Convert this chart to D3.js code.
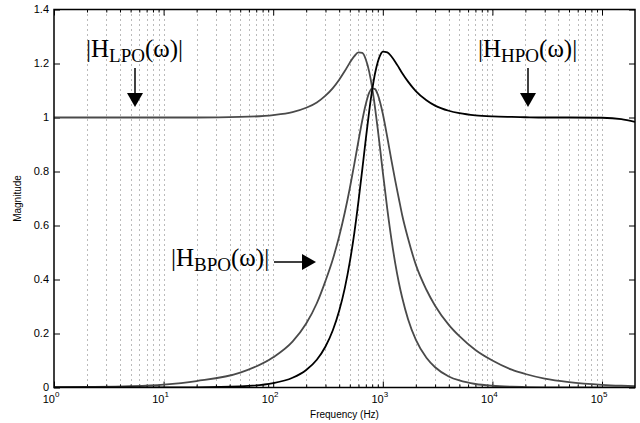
<!DOCTYPE html>
<html>
<head>
<meta charset="utf-8">
<script src="https://cdn.jsdelivr.net/npm/d3@7/dist/d3.min.js"></script>
<style>
  html, body { margin: 0; padding: 0; background: #fff; }
  svg { display: block; }
</style>
</head>
<body>
<svg id="chart" width="640" height="423"></svg>
<script>
// ---- data ----
const freqHz = [1, 2, 5, 10, 20, 50, 100, 150, 200, 250, 300, 350, 400, 450, 500, 550, 600, 650, 700, 750, 800, 850, 900, 950, 1000, 1100, 1200, 1300, 1400, 1500, 1700, 2000, 2500, 3000, 4000, 5000, 7000, 10000, 15000, 20000, 30000, 50000, 100000, 150000, 200000];
const lpoMag = [1.000, 1.000, 1.000, 1.000, 1.000, 1.002, 1.009, 1.020, 1.036, 1.056, 1.081, 1.109, 1.140, 1.172, 1.203, 1.227, 1.241, 1.239, 1.215, 1.171, 1.110, 1.036, 0.956, 0.876, 0.798, 0.660, 0.548, 0.459, 0.389, 0.334, 0.253, 0.177, 0.110, 0.075, 0.041, 0.026, 0.013, 0.0065, 0.003, 0.0016, 0.0007, 0.0003, 0.0001, 0, 0];
const hpoMag = [0, 0, 0, 0.0002, 0.0006, 0.004, 0.016, 0.036, 0.065, 0.103, 0.152, 0.212, 0.284, 0.368, 0.465, 0.573, 0.690, 0.808, 0.921, 1.021, 1.102, 1.164, 1.206, 1.232, 1.244, 1.241, 1.226, 1.206, 1.185, 1.165, 1.133, 1.098, 1.064, 1.044, 1.025, 1.016, 1.008, 1.004, 1.002, 1.001, 1.000, 1.000, 0.999, 0.994, 0.984];
const bpoMag = [0.001, 0.002, 0.005, 0.011, 0.024, 0.055, 0.112, 0.170, 0.237, 0.312, 0.395, 0.475, 0.560, 0.648, 0.738, 0.828, 0.914, 0.990, 1.050, 1.091, 1.108, 1.105, 1.085, 1.053, 1.014, 0.926, 0.840, 0.765, 0.700, 0.640, 0.552, 0.455, 0.362, 0.303, 0.232, 0.190, 0.139, 0.100, 0.066, 0.050, 0.033, 0.020, 0.010, 0.0067, 0.005];

const yTicks = [0, 0.2, 0.4, 0.6, 0.8, 1, 1.2, 1.4];
const yTickLabels = ["0", "0.2", "0.4", "0.6", "0.8", "1", "1.2", "1.4"];
const xMajorTicks = [1, 10, 100, 1000, 10000, 100000];
const xTickExponents = ["0", "1", "2", "3", "4", "5"];
const xLabel = "Frequency (Hz)";
const yLabel = "Magnitude";

// ---- layout ----
const L = 54, R = 635, T = 9.5, B = 387.5;
const svg = d3.select("#chart");
const x = d3.scaleLog().domain([1, 2e5]).range([L, R]);
const y = d3.scaleLinear().domain([0, 1.4]).range([B, T]);

// minor tick positions
const xMinorTicks = [];
for (let e = 0; e <= 5; e++) {
  for (let m = 2; m <= 9; m++) {
    const v = m * Math.pow(10, e);
    if (v < 2e5) xMinorTicks.push(v);
  }
}
const gridTicks = xMajorTicks.slice(1).concat(xMinorTicks);

// dotted vertical grid
svg.append("g").selectAll("line").data(gridTicks).join("line")
  .attr("x1", d => Math.round(x(d)) + 0.5).attr("x2", d => Math.round(x(d)) + 0.5)
  .attr("y1", T).attr("y2", B)
  .attr("stroke", "#777").attr("stroke-width", 1)
  .attr("stroke-dasharray", "1,4");

// axes ticks (inward, on all four sides)
const axB = d3.axisBottom(x).tickValues(xMajorTicks).tickSize(-6).tickFormat("");
const axBm = d3.axisBottom(x).tickValues(xMinorTicks).tickSize(-3).tickFormat("");
const axT = d3.axisTop(x).tickValues(xMajorTicks).tickSize(-6).tickFormat("");
const axTm = d3.axisTop(x).tickValues(xMinorTicks).tickSize(-3).tickFormat("");
const axL = d3.axisLeft(y).tickValues(yTicks).tickSize(-6).tickFormat("");
const axR = d3.axisRight(y).tickValues(yTicks).tickSize(-6).tickFormat("");

function styleAxis(g) {
  g.select(".domain").remove();
  g.selectAll("line").attr("stroke", "#000").attr("stroke-width", 1);
}
svg.append("g").attr("transform", `translate(0,${B})`).call(axB).call(styleAxis);
svg.append("g").attr("transform", `translate(0,${B})`).call(axBm).call(styleAxis);
svg.append("g").attr("transform", `translate(0,${T})`).call(axT).call(styleAxis);
svg.append("g").attr("transform", `translate(0,${T})`).call(axTm).call(styleAxis);
svg.append("g").attr("transform", `translate(${L},0)`).call(axL).call(styleAxis);
svg.append("g").attr("transform", `translate(${R},0)`).call(axR).call(styleAxis);

// curves
const pts = arr => freqHz.map((f, i) => [f, arr[i]]);
const line = d3.line().x(d => x(d[0])).y(d => y(d[1])).curve(d3.curveMonotoneX);
const curves = [
  { data: lpoMag, color: "#4a4a4a" },
  { data: bpoMag, color: "#4a4a4a" },
  { data: hpoMag, color: "#000000" }
];
svg.append("clipPath").attr("id", "clip").append("rect")
  .attr("x", L).attr("y", T).attr("width", R - L).attr("height", B - T);
svg.append("g").attr("clip-path", "url(#clip)").selectAll("path").data(curves).join("path")
  .attr("d", d => line(pts(d.data)))
  .attr("fill", "none").attr("stroke", d => d.color).attr("stroke-width", 1.8);

// frame
svg.append("rect").attr("x", L).attr("y", T).attr("width", R - L).attr("height", B - T)
  .attr("fill", "none").attr("stroke", "#000").attr("stroke-width", 1.5);

// y tick labels
svg.append("g").selectAll("text").data(yTicks).join("text")
  .attr("x", L - 5).attr("y", d => y(d)).attr("dy", "0.35em")
  .attr("text-anchor", "end")
  .attr("font-family", "Liberation Sans, Arial, sans-serif").attr("font-size", 11)
  .text((d, i) => yTickLabels[i]);

// x tick labels 10^n
const xl = svg.append("g").selectAll("text").data(xMajorTicks).join("text")
  .attr("x", d => x(d) - 3).attr("y", 403)
  .attr("text-anchor", "middle")
  .attr("font-family", "Liberation Sans, Arial, sans-serif").attr("font-size", 11);
xl.append("tspan").text("10");
xl.append("tspan").attr("dy", -6).attr("font-size", 8).text((d, i) => xTickExponents[i]);

// axis labels
svg.append("text").attr("x", (L + R) / 2).attr("y", 418).attr("text-anchor", "middle")
  .attr("font-family", "Liberation Sans, Arial, sans-serif").attr("font-size", 10)
  .text(xLabel);
svg.append("text").attr("transform", `translate(21,${(T + B) / 2}) rotate(-90)`)
  .attr("text-anchor", "middle")
  .attr("font-family", "Liberation Sans, Arial, sans-serif").attr("font-size", 10)
  .text(yLabel);

// annotations
function annot(xp, yp, sub) {
  const t = svg.append("text").attr("x", xp).attr("y", yp)
    .attr("font-family", "Liberation Serif, Times New Roman, serif").attr("font-size", 25);
  t.append("tspan").text("|H");
  t.append("tspan").attr("font-size", 19).attr("dy", 5).text(sub);
  t.append("tspan").attr("dy", -5).text("(ω)|");
}
annot(86, 57, "LPO");
annot(478, 57, "HPO");
annot(171, 266, "BPO");

// arrows
const arrowColor = "#000";
function vArrow(xp, y0, y1) {
  svg.append("line").attr("x1", xp).attr("x2", xp).attr("y1", y0).attr("y2", y1 - 12)
    .attr("stroke", arrowColor).attr("stroke-width", 1.5);
  svg.append("path").attr("d", `M${xp - 8},${y1 - 14} L${xp + 8},${y1 - 14} L${xp},${y1} Z`).attr("fill", arrowColor);
}
function hArrow(yp, x0, x1) {
  svg.append("line").attr("x1", x0).attr("x2", x1 - 12).attr("y1", yp).attr("y2", yp)
    .attr("stroke", arrowColor).attr("stroke-width", 1.5);
  svg.append("path").attr("d", `M${x1 - 14},${yp - 8} L${x1 - 14},${yp + 8} L${x1},${yp} Z`).attr("fill", arrowColor);
}
vArrow(135, 68, 107);
vArrow(528, 68, 107);
hArrow(262, 274, 316);
</script>
</body>
</html>
